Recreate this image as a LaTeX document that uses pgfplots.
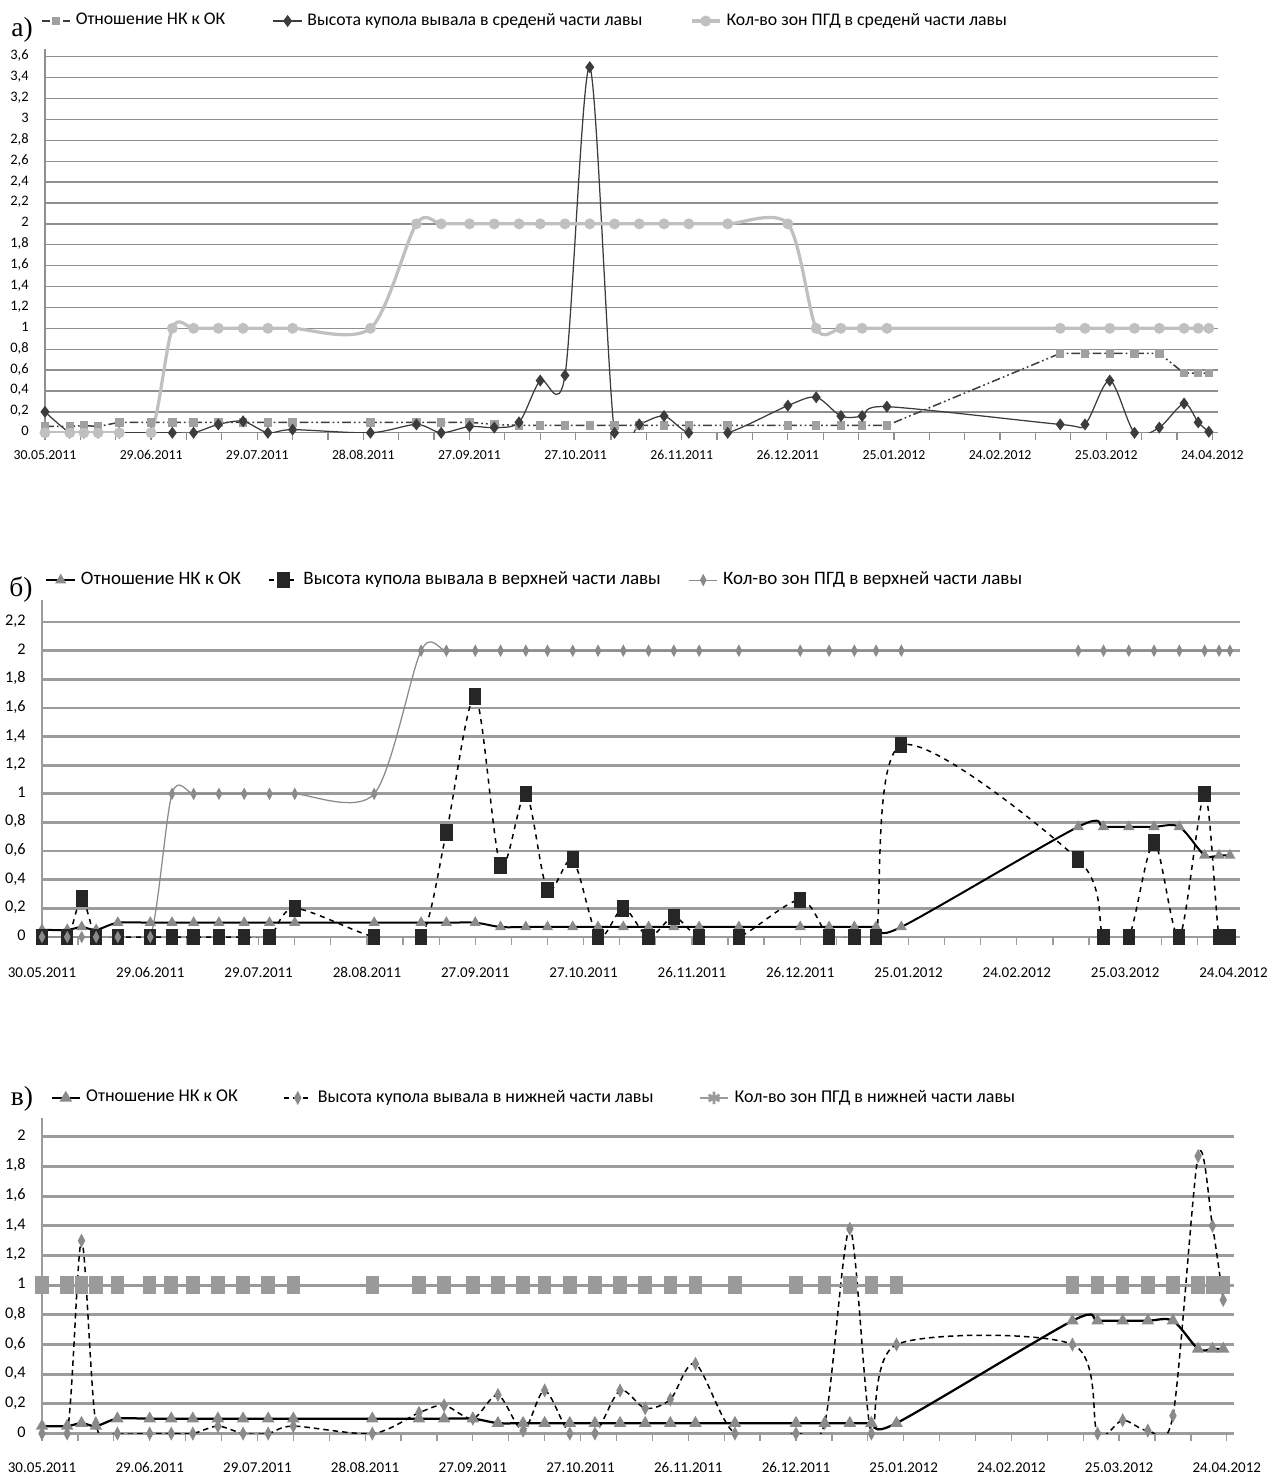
\documentclass[border=0pt]{standalone}
\usepackage{fontspec}
\setmainfont{Carlito}
\newfontfamily\seriffont{Liberation Serif}
\usepackage{pgfplots}
\pgfplotsset{compat=1.18}
\usepackage{pgfplotstable}

\definecolor{gridA}{HTML}{8F8F8F}
\definecolor{gridB}{HTML}{9C9C9C}
\definecolor{dkA}{HTML}{3C3C3C}
\definecolor{sqA}{HTML}{A0A0A0}
\definecolor{ltA}{HTML}{C0C0C0}
\definecolor{grB}{HTML}{8A8A8A}
\definecolor{sqC}{HTML}{9A9A9A}

% panel a: day, NK/OK, height (middle), zones (middle)
\pgfplotstableread{
day nk h p
0 0.06 0.2 0
7 0.06 0 0
11 0.07 0 0
15 0.06 0 0
21 0.1 0 0
30 0.1 0 0
36 0.1 0 1
42 0.1 0 1
49 0.1 0.08 1
56 0.1 0.11 1
63 0.1 0 1
70 0.1 0.03 1
92 0.1 0 1
105 0.1 0.08 2
112 0.1 0 2
120 0.1 0.06 2
127 0.08 0.05 2
134 0.07 0.1 2
140 0.07 0.5 2
147 0.07 0.55 2
154 0.07 3.5 2
161 0.07 0 2
168 0.07 0.08 2
175 0.07 0.16 2
182 0.07 0 2
193 0.07 0 2
210 0.07 0.26 2
218 0.07 0.34 1
225 0.07 0.16 1
231 0.07 0.16 1
238 0.07 0.25 1
287 0.76 0.08 1
294 0.76 0.08 1
301 0.76 0.5 1
308 0.76 0 1
315 0.76 0.05 1
322 0.57 0.28 1
326 0.57 0.1 1
329 0.57 0.01 1
}\dataA

% panel b: day, NK/OK, height (upper), zones (upper)
\pgfplotstableread{
day nk h p
0 0.05 0 0
7 0.05 0 0
11 0.07 0.27 0
15 0.05 0 0
21 0.1 0 0
30 0.1 0 0
36 0.1 0 1
42 0.1 0 1
49 0.1 0 1
56 0.1 0 1
63 0.1 0 1
70 0.1 0.2 1
92 0.1 0 1
105 0.1 0 2
112 0.1 0.73 2
120 0.1 1.68 2
127 0.07 0.5 2
134 0.07 1.0 2
140 0.07 0.33 2
147 0.07 0.54 2
154 0.07 0 2
161 0.07 0.2 2
168 0.07 0 2
175 0.07 0.14 2
182 0.07 0 2
193 0.07 0 2
210 0.07 0.26 2
218 0.07 0 2
225 0.07 0 2
231 0.07 0 2
238 0.07 1.34 2
287 0.77 0.54 2
294 0.77 0 2
301 0.77 0 2
308 0.77 0.66 2
315 0.77 0 2
322 0.57 1.0 2
326 0.57 0 2
329 0.57 0 2
}\dataB

% panel c: day, NK/OK, height (lower), zones (lower)
\pgfplotstableread{
day nk h p
0 0.05 0 1
7 0.05 0 1
11 0.07 1.3 1
15 0.05 0.07 1
21 0.1 0 1
30 0.1 0 1
36 0.1 0 1
42 0.1 0 1
49 0.1 0.05 1
56 0.1 0 1
63 0.1 0 1
70 0.1 0.05 1
92 0.1 0 1
105 0.1 0.14 1
112 0.1 0.19 1
120 0.1 0.1 1
127 0.07 0.26 1
134 0.07 0.02 1
140 0.07 0.29 1
147 0.07 0 1
154 0.07 0 1
161 0.07 0.29 1
168 0.07 0.17 1
175 0.07 0.23 1
182 0.07 0.47 1
193 0.07 0 1
210 0.07 0 1
218 0.07 0.07 1
225 0.07 1.38 1
231 0.07 0 1
238 0.07 0.6 1
287 0.76 0.6 1
294 0.76 0 1
301 0.76 0.09 1
308 0.76 0.02 1
315 0.76 0.12 1
322 0.57 1.87 1
326 0.57 1.4 1
329 0.57 0.9 1
}\dataC

\pgfplotsset{
  base/.style={
    scale only axis,
    anchor=south west,
    axis x line*=bottom,
    axis y line*=left,
    xmin=0, ymin=0,
    xtick={0,30,60,90,120,150,180,210,240,270,300,330},
    xticklabels={30.05.2011,29.06.2011,29.07.2011,28.08.2011,27.09.2011,27.10.2011,26.11.2011,26.12.2011,25.01.2012,24.02.2012,25.03.2012,24.04.2012},
    minor xtick={10,20,40,50,70,80,100,110,130,140,160,170,190,200,220,230,250,260,280,290,310,320},
    tick align=outside,
    major tick length=3pt,
    minor tick length=3pt,
    ytick style={draw=none},
    ymajorgrids,
    typeset ticklabels with strut,
    xticklabel style={anchor=north},
    yticklabel style={/pgf/number format/use comma, /pgf/number format/fixed, /pgf/number format/precision=1, /pgf/number format/assume math mode=true},
    legend cell align=left,
    legend columns=3,
    legend image code/.code={\draw[mark repeat=2,mark phase=2,##1] plot coordinates {(0cm,0cm) (0.2cm,0cm) (0.4cm,0cm)};},
  }
}

\begin{document}
\begin{tikzpicture}
\useasboundingbox (0pt,0pt) rectangle (510.4pt,-592.8pt);

% ---------- panel a ----------
\node[font=\seriffont\fontsize{11}{12}\selectfont] at (8.8pt,-12pt) {а)};
\begin{axis}[base,
  at={(18pt,-173.1pt)},
  width=469.2pt, height=153.5pt,
  xmax=331.6, ymax=3.674,
  ytick={0,0.2,0.4,0.6,0.8,1,1.2,1.4,1.6,1.8,2,2.2,2.4,2.6,2.8,3,3.2,3.4,3.6},
  grid style={gridA, line width=0.55pt},
  axis line style={gridA, line width=0.55pt},
  tick style={gridA, line width=0.5pt},
  xticklabel style={font=\fontsize{5.5}{6}\selectfont},
  yticklabel style={font=\fontsize{5.8}{6}\selectfont},
  xticklabel shift=0pt,
  legend style={draw=none, fill=none, inner sep=0pt, font=\fontsize{7.1}{8}\selectfont,
    at={(-0.004,1.073)}, anchor=west,
    /tikz/every even column/.append style={column sep=17pt}},
]
\addplot[color=dkA, line width=0.6pt,
  dash pattern=on 3.5pt off 1.2pt on 0.7pt off 1.2pt on 0.7pt off 1.2pt,
  mark=square*, mark size=1.4pt, mark options={solid, fill=sqA, draw=sqA}]
  table[x=day,y=nk]{\dataA};
\addlegendentry{Отношение НК к ОК}
\addplot[color=dkA, line width=0.5pt, smooth,
  mark=diamond*, mark size=2pt, mark options={solid, fill=dkA}]
  table[x=day,y=h]{\dataA};
\addlegendentry{Высота купола вывала в среденй части лавы}
\addplot[color=ltA, line width=1.3pt, smooth,
  mark=*, mark size=1.5pt, mark options={solid, fill=ltA, draw=ltA}]
  table[x=day,y=p]{\dataA};
\addlegendentry{Кол-во зон ПГД в среденй части лавы}
\end{axis}

% ---------- panel b ----------
\node[font=\seriffont\fontsize{11}{12}\selectfont] at (8.4pt,-236pt) {б)};
\begin{axis}[base,
  at={(16.8pt,-374.8pt)},
  width=479.2pt, height=134.8pt,
  xmax=331.8, ymax=2.354,
  ytick={0,0.2,0.4,0.6,0.8,1,1.2,1.4,1.6,1.8,2,2.2},
  grid style={gridB, line width=1.1pt},
  axis line style={gridB, line width=0.8pt},
  tick style={gridB, line width=0.5pt},
  xticklabel style={font=\fontsize{6}{6.5}\selectfont},
  yticklabel style={font=\fontsize{6.5}{7}\selectfont},
  xticklabel shift=5pt,
  legend style={draw=none, fill=none, inner sep=0pt, font=\fontsize{7.6}{8}\selectfont,
    at={(0.0025,1.059)}, anchor=west,
    /tikz/every even column/.append style={column sep=9pt}},
]
\addplot[color=black, line width=0.8pt, smooth,
  mark=triangle*, mark size=1.8pt, mark options={solid, fill=grB, draw=grB}]
  table[x=day,y=nk]{\dataB};
\addlegendentry{Отношение НК к ОК}
\addplot[color=black, line width=0.6pt, smooth, dash pattern=on 2pt off 2pt,
  mark=square*, mark size=3pt, mark options={solid, fill=black!85, draw=black!85, xscale=0.72}]
  table[x=day,y=h]{\dataB};
\addlegendentry{Высота купола вывала в верхней части лавы}
\addplot[color=grB, line width=0.5pt, smooth,
  mark=diamond*, mark size=2pt, mark options={solid, fill=grB, draw=grB, xscale=0.7}]
  table[x=day,y=p]{\dataB};
\addlegendentry{Кол-во зон ПГД в верхней части лавы}
\end{axis}

% ---------- panel c ----------
\node[font=\seriffont\fontsize{11}{12}\selectfont] at (8.8pt,-439.6pt) {в)};
\begin{axis}[base,
  at={(16.8pt,-573.4pt)},
  width=476.8pt, height=126.4pt,
  xmax=332, ymax=2.13,
  ytick={0,0.2,0.4,0.6,0.8,1,1.2,1.4,1.6,1.8,2},
  grid style={gridB, line width=1.1pt},
  axis line style={gridB, line width=0.8pt},
  tick style={gridB, line width=0.5pt},
  xticklabel style={font=\fontsize{6}{6.5}\selectfont},
  yticklabel style={font=\fontsize{6.5}{7}\selectfont},
  xticklabel shift=4.5pt,
  legend style={draw=none, fill=none, inner sep=0pt, font=\fontsize{7.2}{8}\selectfont,
    at={(0.0067,1.062)}, anchor=west,
    /tikz/every even column/.append style={column sep=16pt}},
]
\addplot[color=black, line width=0.9pt, smooth,
  mark=triangle*, mark size=2pt, mark options={solid, fill=grB, draw=grB}]
  table[x=day,y=nk]{\dataC};
\addlegendentry{Отношение НК к ОК}
\addplot[color=black, line width=0.6pt, smooth, dash pattern=on 2.2pt off 1.6pt,
  mark=diamond*, mark size=2.2pt, mark options={solid, fill=grB, draw=grB, xscale=0.7}]
  table[x=day,y=h]{\dataC};
\addlegendentry{Высота купола вывала в нижней части лавы}
\addplot[color=sqC, line width=1.1pt,
  mark=square*, mark size=3pt, mark options={solid, fill=sqC, draw=sqC, xscale=0.72},
  legend image post style={mark=asterisk, mark size=2.5pt, mark options={solid, draw=sqC, xscale=1}}]
  table[x=day,y=p]{\dataC};
\addlegendentry{Кол-во зон ПГД в нижней части лавы}
\end{axis}
\end{tikzpicture}
\end{document}
